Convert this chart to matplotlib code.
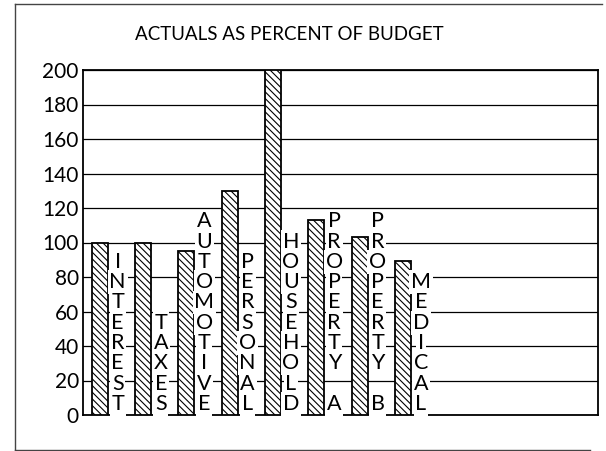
import matplotlib
matplotlib.use("Agg")
import matplotlib.pyplot as plt
from matplotlib.lines import Line2D

plt.rcParams['font.family'] = ['Lato', 'DejaVu Sans']
plt.rcParams['hatch.linewidth'] = 0.8
plt.rcParams['hatch.color'] = 'black'

categories = ["INTEREST", "TAXES", "AUTOMOTIVE", "PERSONAL", "HOUSEHOLD",
              "PROPERTY A", "PROPERTY B", "MEDICAL"]
values = [100, 100, 95, 130, 200, 113, 103, 89]
yticks = [0, 20, 40, 60, 80, 100, 120, 140, 160, 180, 200]
title = "ACTUALS AS PERCENT OF BUDGET"

W, H = 606, 451
fig = plt.figure(figsize=(W / 100, H / 100), dpi=100)
fig.patch.set_facecolor('white')

def fx(px):
    return px / W

def fy(py):
    return 1 - py / H

ax = fig.add_axes([fx(83), fy(415), fx(598) - fx(83), fy(70) - fy(415)])

x = list(range(len(categories)))
bar_w = 0.37
ax.bar(x, values, width=bar_w, align='edge', facecolor='white',
       edgecolor='black', linewidth=1.3, hatch='\\\\\\\\\\', zorder=3)

ax.set_xlim(-0.2, 11.69)
ax.set_ylim(0, 200)
ax.set_yticks(yticks)
ax.set_yticklabels([str(v) for v in yticks], fontsize=15)
ax.tick_params(axis='y', length=0, pad=3)
ax.set_xticks([])
ax.yaxis.grid(True, color='black', linewidth=0.9, zorder=0)
ax.set_axisbelow(True)
for s in ax.spines.values():
    s.set_color('black')
    s.set_linewidth(1.3)

# vertical stacked category labels
pitch_px = 20.3
base_px = 5
for i, lab in enumerate(categories):
    n = len(lab)
    for j, ch in enumerate(lab):
        if ch == ' ':
            continue
        k = n - 1 - j
        ax.annotate(ch, xy=(i + 0.6, 0), xycoords='data',
                    xytext=(0, (base_px + k * pitch_px) * 0.72),
                    textcoords='offset points', ha='center', va='baseline',
                    fontsize=15.5, zorder=4,
                    bbox=dict(boxstyle='square,pad=0.08', facecolor='white',
                              edgecolor='none'))

fig.text(fx(289), fy(35), title, ha='center', va='center', fontsize=13.5)

# outer frame
fc = '#444444'
fig.add_artist(Line2D([fx(15), fx(15)], [fy(4), fy(450)], color=fc, lw=1))
fig.add_artist(Line2D([fx(15), fx(602)], [fy(4), fy(4)], color=fc, lw=1))
fig.add_artist(Line2D([fx(15), fx(590)], [fy(450), fy(450)], color=fc, lw=1))

fig.savefig("out.png", dpi=100)
